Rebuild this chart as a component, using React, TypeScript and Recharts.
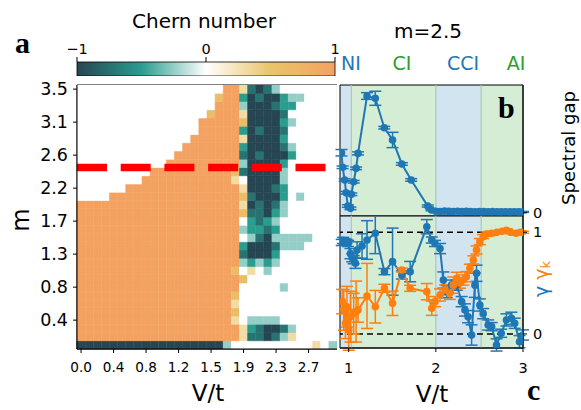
import React from 'react';
import {
  BarChart,
  Bar,
  Cell,
  XAxis,
  YAxis,
  ComposedChart,
  Line,
  ErrorBar,
  ReferenceArea,
  ReferenceLine,
} from 'recharts';

const FONT = '"DejaVu Sans", sans-serif';
const SERIF = '"Liberation Serif", "DejaVu Serif", serif';
const BLUE = '#1f77b4';
const ORANGE = '#ff7f0e';
const GREEN = '#2ca02c';

// Chern number map, one run-length coded row per m value, top row (m=3.5) first.
// o=1  g=0.6  y=0.3  .=0  l=-0.25  m=-0.5  t=-0.75  d=-1
const chernRows = [
  '18.2oytdtl7.',
  '17.g2omdtddm2l4.',
  '17.3ol3dt2m5.',
  '16.g3oy4dt6.',
  '15.5og4dml5.',
  '15.5omdt2dt6.',
  '14.6oy4dm6.',
  '13.7om4dtl5.',
  '12.8otdt3dm5.',
  '11.9ol4dm6.',
  '9.10ogt4dl6.',
  '8.11oy.4dl6.',
  '6.14oy3dtm6.',
  '4.16ogt3dm.l4.',
  '20oydtdtl6.',
  '20og2tdml6.',
  '20o.mtml7.',
  '20ol2mtm7.',
  '20o.ltd5l3.',
  '20om3dt3l4.',
  '20ot3dm7.',
  '20olmlml7.',
  '19og.y.l8.',
  '20og11.',
  '20o5.l6.',
  '19og12.',
  '19oy12.',
  '19og12.',
  '19oy.4l7.',
  '20oymt2dtl5.',
  '20oy2tdtly5.',
  '18dl10.y.l.',
];
const chernLevels: Record<string, number> = {
  o: 1, g: 0.6, y: 0.3, '.': 0, l: -0.25, m: -0.5, t: -0.75, d: -1,
};
const vTickLabels = ['0.0', '0.4', '0.8', '1.2', '1.5', '1.9', '2.3', '2.7'];
const mTickLabels = ['3.5', '3.1', '2.6', '2.2', '1.7', '1.3', '0.8', '0.4'];
const cutLevel = 22; // grid level of the m = 2.5 cut
const chernTicks = [-1, 0, 1];

// phase regions along V/t at m = 2.5
const phaseNames = ['NI', 'CI', 'CCI', 'AI'];
const phaseEdges = [0.9, 1.03, 2.0, 2.52, 3.0];

// spectral gap (panel b)
const gapV = [0.917, 0.93, 0.954, 0.97, 0.99, 1.02, 1.03, 1.057, 1.085, 1.107, 1.21, 1.305, 1.408, 1.503, 1.61, 1.717, 1.907, 1.95,
  2.0, 2.05, 2.1, 2.15, 2.2, 2.25, 2.3, 2.35, 2.4, 2.45, 2.5, 2.55, 2.6, 2.65, 2.7, 2.75, 2.8, 2.85, 2.9, 2.95, 3.0];
const gapVal = [0.47, 0.356, 0.257, 0.157, 0.053, 0.035, 0.145, 0.243, 0.348, 0.465, 0.914, 0.896, 0.666, 0.57, 0.382, 0.257, 0.053, 0.022,
  0.012, 0.01, 0.013, 0.011, 0.01, 0.012, 0.009, 0.011, 0.01, 0.008, 0.01, 0.009, 0.008, 0.009, 0.008, 0.007, 0.008, 0.007, 0.008, 0.007, 0.007];
const gapErr = [0.025, 0.01, 0.01, 0.01, 0.01, 0.01, 0.01, 0.01, 0.01, 0.012, 0.026, 0.055, 0.01, 0.06, 0.01, 0.01, 0.008, 0.006,
  0.004, 0.004, 0.004, 0.004, 0.004, 0.004, 0.004, 0.004, 0.004, 0.004, 0.004, 0.004, 0.004, 0.004, 0.004, 0.004, 0.004, 0.004, 0.004, 0.004, 0.004];

// gamma (panel c, blue)
const gammaV = [0.92, 0.935, 0.954, 0.975, 0.993, 1.02, 1.04, 1.057, 1.077, 1.096, 1.153, 1.21, 1.305, 1.41, 1.503, 1.61, 1.705, 1.896, 1.953, 1.99,
  2.048, 2.086, 2.124, 2.18, 2.24, 2.296, 2.334, 2.37, 2.41, 2.448, 2.467, 2.505, 2.543, 2.6, 2.64, 2.696, 2.75, 2.81, 2.867, 2.905, 2.96, 3.0];
const gammaVal = [0.9, 0.92, 0.908, 0.91, 0.89, 0.79, 0.75, 0.73, 0.695, 0.826, 0.865, 0.924, 0.99, 0.613, 0.711, 0.58, 0.613, 1.055, 0.924, 0.89,
  0.84, 0.53, 0.416, 0.48, 0.48, 0.318, 0.236, 0.17, -0.01, 0.48, 0.597, 0.285, 0.2, 0.088, 0.072, -0.108, 0.007, 0.138, 0.154, 0.105, -0.076, -0.01];
const gammaErr = [0.03, 0.03, 0.03, 0.02, 0.03, 0.05, 0.04, 0.04, 0.05, 0.08, 0.12, 0.19, 0.2, 0.03, 0.33, 0.04, 0.1, 0.07, 0.03, 0.03,
  0.05, 0.08, 0.06, 0.05, 0.05, 0.05, 0.06, 0.06, 0.1, 0.12, 0.08, 0.06, 0.05, 0.05, 0.04, 0.06, 0.04, 0.06, 0.06, 0.05, 0.06, 0.05];

// gamma_k (panel c, orange)
const gammaKV = [0.925, 0.943, 0.962, 0.98, 1.0, 1.02, 1.057, 1.085, 1.107, 1.21, 1.305, 1.41, 1.503, 1.61, 1.705, 1.896, 1.953, 1.99, 2.048, 2.105,
  2.16, 2.2, 2.24, 2.277, 2.314, 2.35, 2.39, 2.43, 2.467, 2.505, 2.543, 2.58, 2.64, 2.7, 2.76, 2.81, 2.86, 2.92, 2.97, 3.0];
const gammaKVal = [0.318, 0.236, 0.105, 0.268, 0.04, 0.17, 0.2, 0.22, 0.236, 0.374, 0.268, 0.449, 0.302, 0.629, 0.449, 0.416, 0.253, 0.318, 0.383, 0.433,
  0.4, 0.48, 0.547, 0.5, 0.53, 0.563, 0.646, 0.728, 0.826, 0.908, 0.957, 0.983, 0.99, 1.0, 1.01, 1.02, 1.0, 0.99, 1.0, 1.0];
const gammaKErr = [0.12, 0.2, 0.15, 0.2, 0.2, 0.25, 0.2, 0.3, 0.12, 0.32, 0.16, 0.04, 0.12, 0.02, 0.03, 0.08, 0.07, 0.05, 0.06, 0.05,
  0.06, 0.08, 0.06, 0.05, 0.05, 0.05, 0.04, 0.04, 0.04, 0.03, 0.02, 0.02, 0.02, 0.015, 0.015, 0.015, 0.015, 0.015, 0.015, 0.01];

// colormap stops (teal-white-orange)
const chernStops = [
  { v: -1, c: [38, 70, 83] },
  { v: -0.5, c: [42, 157, 143] },
  { v: 0, c: [255, 255, 255] },
  { v: 0.5, c: [233, 196, 106] },
  { v: 1, c: [244, 162, 97] },
];

const chernColor = (v: number) => {
  for (let i = 0; i < chernStops.length - 1; i++) {
    const a = chernStops[i];
    const b = chernStops[i + 1];
    if (v <= b.v) {
      const t = (v - a.v) / (b.v - a.v);
      const rgb = a.c.map((c, k) => Math.round(c + t * (b.c[k] - c)));
      return `rgb(${rgb.join(',')})`;
    }
  }
  return 'rgb(244,162,97)';
};

const decodeRow = (rle: string) => {
  const out: number[] = [];
  const re = /(\d*)(\D)/g;
  let m: RegExpExecArray | null;
  while ((m = re.exec(rle))) {
    const n = m[1] ? parseInt(m[1], 10) : 1;
    for (let i = 0; i < n; i++) out.push(chernLevels[m[2]]);
  }
  return out;
};

const grid = chernRows.map(decodeRow);
const nRows = grid.length;
const nCols = grid[0].length;

// one stacked unit bar per cell, bottom row first
const heatData = Array.from({ length: nCols }, (_, col) => {
  const d: Record<string, number> = { col };
  for (let k = 0; k < nRows; k++) d[`r${k}`] = 1;
  return d;
});

const mTickPos = mTickLabels.map((_, i) => nRows - 0.5 - 4 * i);

const gapData = gapV.map((v, i) => ({ v, g: gapVal[i], e: gapErr[i] }));
const gammaData = gammaV.map((v, i) => ({ v, y: gammaVal[i], e: gammaErr[i] }));
const gammaKData = gammaKV.map((v, i) => ({ v, y: gammaKVal[i], e: gammaKErr[i] }));
const colorbarData = [{ name: 'Chern', span: [chernTicks[0], chernTicks[chernTicks.length - 1]] }];

const phaseFill = (i: number) => (i % 2 === 0 ? '#d2e4f0' : '#d5ecd5');
const phaseText = (i: number) => (i % 2 === 0 ? BLUE : GREEN);

const tickStyle = (size: number) => ({ fill: '#000', fontSize: size, fontFamily: FONT });

const PhaseShading = () => (
  <>
    {phaseNames.map((p, i) => (
      <ReferenceArea
        key={p}
        x1={phaseEdges[i]}
        x2={phaseEdges[i + 1]}
        fill={phaseFill(i)}
        fillOpacity={1}
        stroke="none"
      />
    ))}
  </>
);

const abs = (left: number, top: number): React.CSSProperties => ({ position: 'absolute', left, top });

export default function App() {
  return (
    <div style={{ position: 'absolute', left: 0, top: 0, width: 581, height: 410, background: '#fff', fontFamily: FONT }}>
      <svg width={1} height={1} style={{ position: 'absolute', left: 0, top: 0 }}>
        <defs>
          <linearGradient id="chernGrad" x1="0" x2="1" y1="0" y2="0">
            {chernStops.map((s) => (
              <stop key={s.v} offset={(s.v + 1) / 2} stopColor={`rgb(${s.c.join(',')})`} />
            ))}
          </linearGradient>
        </defs>
      </svg>

      {/* colorbar */}
      <div style={abs(62, 38)}>
        <BarChart
          layout="vertical"
          width={288}
          height={38}
          data={colorbarData}
          margin={{ top: 0, right: 15, bottom: 0, left: 15 }}
          barCategoryGap={0}
        >
          <XAxis
            type="number"
            orientation="top"
            domain={[-1, 1]}
            ticks={chernTicks}
            interval={0}
            height={24}
            tickSize={5}
            tickMargin={3}
            axisLine={false}
            stroke="#000"
            tick={tickStyle(14.5)}
            tickFormatter={(v: number) => (v < 0 ? '\u22121' : String(v))}
          />
          <YAxis type="category" dataKey="name" hide />
          <Bar dataKey="span" fill="url(#chernGrad)" stroke="#000" strokeWidth={0.8} isAnimationActive={false} />
        </BarChart>
      </div>

      {/* panel a: Chern number map */}
      <div style={abs(0, 80)}>
        <BarChart
          width={337}
          height={299}
          data={heatData}
          margin={{ top: 5, right: 0, bottom: 0, left: 0 }}
          barCategoryGap={0}
          barGap={0}
        >
          <XAxis
            dataKey="col"
            interval={3}
            height={30}
            tickSize={4}
            tickMargin={9}
            stroke="#000"
            tick={tickStyle(13.6)}
            tickFormatter={(c: number) => vTickLabels[c / 4]}
          />
          <YAxis
            type="number"
            domain={[0, nRows]}
            ticks={mTickPos}
            interval={0}
            width={77}
            tickSize={4}
            tickMargin={5}
            stroke="#000"
            tick={tickStyle(17.5)}
            tickFormatter={(v: number) => mTickLabels[Math.round((nRows - 0.5 - v) / 4)]}
            allowDataOverflow
          />
          {Array.from({ length: nRows }, (_, k) => {
            const row = grid[nRows - 1 - k];
            return (
              <Bar key={k} dataKey={`r${k}`} stackId="h" isAnimationActive={false}>
                {row.map((v, c) => (
                  <Cell key={c} fill={chernColor(v)} stroke={chernColor(v)} strokeWidth={0.6} />
                ))}
              </Bar>
            );
          })}
          <ReferenceLine y={cutLevel} stroke="#ff0000" strokeWidth={7.7} strokeDasharray="30 13.7" />
          <ReferenceArea y1={0} y2={nRows} fill="none" stroke="#000" strokeWidth={1} />
        </BarChart>
      </div>

      {/* panel b: spectral gap */}
      <div style={abs(335, 80)}>
        <ComposedChart width={246} height={147} data={gapData} margin={{ top: 5, right: 28, bottom: 10, left: 5 }}>
          <XAxis type="number" dataKey="v" domain={[0.9, 3]} allowDataOverflow height={1} tick={false} tickLine={false} stroke="#000" />
          <YAxis
            orientation="right"
            type="number"
            domain={[-0.025, 1]}
            allowDataOverflow
            ticks={[0]}
            interval={0}
            width={30}
            tickSize={4}
            tickMargin={6}
            stroke="#000"
            tick={tickStyle(14.5)}
          />
          {PhaseShading()}
          {phaseEdges.slice(1, -1).map((x) => (
            <ReferenceLine key={x} x={x} stroke="#a3cbb8" strokeWidth={1.2} />
          ))}
          <Line
            dataKey="g"
            stroke={BLUE}
            strokeWidth={2}
            dot={{ r: 2.8, fill: BLUE, stroke: BLUE }}
            isAnimationActive={false}
          >
            <ErrorBar dataKey="e" width={6} stroke={BLUE} strokeWidth={1.5} />
          </Line>
          <ReferenceArea y1={-0.025} y2={1} fill="none" stroke="#000" strokeWidth={1} />
        </ComposedChart>
      </div>

      {/* panel c: gamma and gamma_k */}
      <div style={abs(335, 216)}>
        <ComposedChart width={246} height={162} margin={{ top: 0, right: 28, bottom: 0, left: 5 }}>
          <XAxis
            type="number"
            dataKey="v"
            domain={[0.9, 3]}
            allowDataOverflow
            ticks={[1, 2, 3]}
            interval={0}
            height={30}
            tickSize={4}
            tickMargin={11}
            stroke="#000"
            tick={tickStyle(14.5)}
          />
          <YAxis
            orientation="right"
            type="number"
            domain={[-0.138, 1.16]}
            allowDataOverflow
            ticks={[0, 1]}
            interval={0}
            width={30}
            tickSize={4}
            tickMargin={6}
            stroke="#000"
            tick={tickStyle(14.5)}
          />
          {PhaseShading()}
          {phaseEdges.slice(1, -1).map((x) => (
            <ReferenceLine key={x} x={x} stroke="#a3cbb8" strokeWidth={1.2} />
          ))}
          <ReferenceLine y={0} stroke="#000" strokeWidth={1.5} strokeDasharray="6 4" />
          <ReferenceLine y={1} stroke="#000" strokeWidth={1.5} strokeDasharray="6 4" />
          <Line
            data={gammaData}
            dataKey="y"
            stroke={BLUE}
            strokeWidth={2}
            dot={{ r: 2.8, fill: BLUE, stroke: BLUE }}
            isAnimationActive={false}
          >
            <ErrorBar dataKey="e" width={6} stroke={BLUE} strokeWidth={1.5} />
          </Line>
          <Line
            data={gammaKData}
            dataKey="y"
            stroke={ORANGE}
            strokeWidth={2}
            dot={{ r: 2.8, fill: ORANGE, stroke: ORANGE }}
            isAnimationActive={false}
          >
            <ErrorBar dataKey="e" width={6} stroke={ORANGE} strokeWidth={1.5} />
          </Line>
          <ReferenceArea y1={-0.138} y2={1.16} fill="none" stroke="#000" strokeWidth={1} />
        </ComposedChart>
      </div>

      {/* titles, axis labels and panel letters */}
      <svg width={581} height={410} style={{ position: 'absolute', left: 0, top: 0, pointerEvents: 'none' }}>
        <g fontFamily={FONT} fill="#000">
          <text x={204} y={28} fontSize={20} textAnchor="middle">Chern number</text>
          <text x={428} y={38} fontSize={20} textAnchor="middle">m=2.5</text>
          {phaseNames.map((p, i) => (
            <text key={p} x={[351, 402, 463, 516][i]} y={70} fontSize={19} textAnchor="middle" fill={phaseText(i)}>
              {p}
            </text>
          ))}
          <text x={208} y={401} fontSize={23} textAnchor="middle">V/t</text>
          <text x={432} y={402} fontSize={23} textAnchor="middle">V/t</text>
          <text transform="translate(21,220) rotate(-90)" fontSize={24} textAnchor="middle" dominantBaseline="central">m</text>
          <text transform="translate(568,148) rotate(-90)" fontSize={18} textAnchor="middle" dominantBaseline="central">
            Spectral gap
          </text>
          <text transform="translate(541,279) rotate(-90)" fontSize={19} textAnchor="middle" dominantBaseline="central">
            <tspan fill={BLUE}>γ</tspan>
            <tspan fill={ORANGE}>{'  γ'}</tspan>
            <tspan fill={ORANGE} fontSize={13} dy={4}>k</tspan>
          </text>
        </g>
        <g fontFamily={SERIF} fontWeight="bold" fontSize={30} fill="#000">
          <text x={15} y={53}>a</text>
          <text x={498} y={118}>b</text>
          <text x={527} y={400}>c</text>
        </g>
      </svg>
    </div>
  );
}
